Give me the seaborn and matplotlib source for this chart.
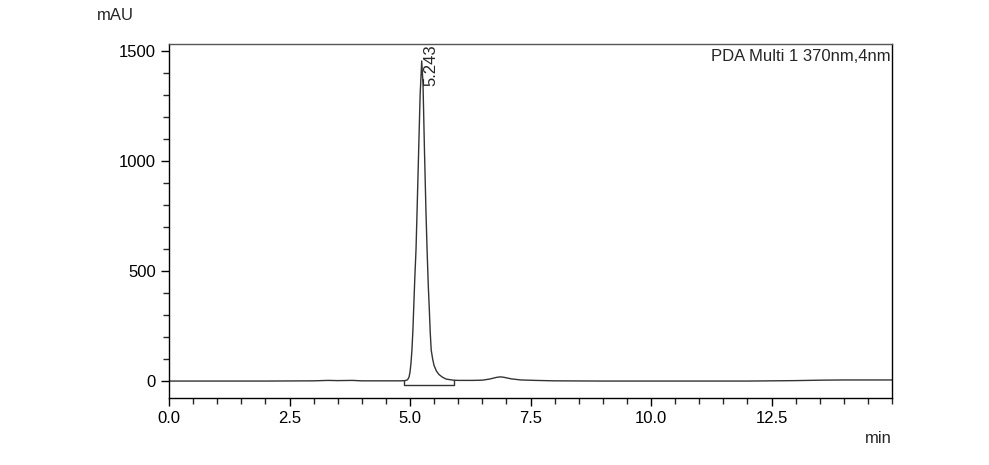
import numpy as np
import pandas as pd
import matplotlib
matplotlib.use('Agg')
import matplotlib.pyplot as plt
from matplotlib.ticker import MultipleLocator
import seaborn as sns

# chromatogram trace (min, mAU)
time_min = [0.0, 1.0, 2.0, 3.0, 3.3, 3.5, 3.8, 4.0, 4.5, 4.8, 4.90, 4.95, 4.98,
            5.00, 5.02, 5.04, 5.06, 5.08, 5.10, 5.125, 5.15, 5.18, 5.21, 5.243,
            5.27, 5.30, 5.33, 5.354, 5.38, 5.40, 5.42, 5.44, 5.47, 5.50, 5.55,
            5.60, 5.67, 5.75, 5.90, 6.0, 6.3, 6.5, 6.65, 6.8, 6.88, 6.95, 7.1,
            7.3, 7.6, 8.0, 9.0, 10.0, 11.0, 12.0, 12.5, 13.0, 13.5, 14.0, 15.0]
signal_mau = [0, 0, 0, 1, 3, 2, 3, 1, 1, 1, 2, 6, 18,
              40, 80, 141, 230, 350, 470, 599, 800, 1050, 1300, 1455,
              1350, 1050, 780, 599, 430, 330, 220, 141, 100, 70, 45,
              30, 18, 9, 4, 3, 3, 4, 9, 17, 19, 17, 10,
              5, 3, 1, 0, 0, 0, 0, 1, 2, 4, 5, 5]

# integration baseline box
box_t = [4.875, 4.875, 5.92, 5.92]
box_y = [0, -17, -17, 3]

x_ticks = [0.0, 2.5, 5.0, 7.5, 10.0, 12.5]
y_ticks = [0, 500, 1000, 1500]

peak_rt = 5.243
peak_label = '5.243'
channel_label = 'PDA Multi 1 370nm,4nm'

sns.set_style('ticks')
plt.rcParams['font.family'] = ['Liberation Sans', 'DejaVu Sans']

df = pd.DataFrame({'t': time_min, 'mAU': signal_mau})

fig = plt.figure(figsize=(9.89, 4.65), dpi=100)
ax = fig.add_axes([169 / 989, 1 - 398 / 465, (892 - 169) / 989, (398 - 44) / 465])

sns.lineplot(data=df, x='t', y='mAU', color='#333333', linewidth=1.0,
             estimator=None, ax=ax)
ax.plot(box_t, box_y, color='#333333', linewidth=1.0)

ax.set_xlim(0, 15)
ax.set_ylim(-77, 1532)
ax.set_xticks(x_ticks)
ax.set_xticklabels([f'{v:.1f}' for v in x_ticks])
ax.set_yticks(y_ticks)
ax.xaxis.set_minor_locator(MultipleLocator(0.5))
ax.yaxis.set_minor_locator(MultipleLocator(100))
ax.tick_params(which='major', length=6, width=1, labelsize=12, colors='black')
ax.tick_params(which='minor', length=4, width=1)
ax.set_xlabel('')
ax.set_ylabel('')
for s in ax.spines.values():
    s.set_linewidth(1.0)
    s.set_color('black')
ax.spines['top'].set_color('#555555')

ax.text(peak_rt + 0.19, 1530, peak_label, rotation=90, ha='center', va='top', fontsize=12)
ax.text(0.998, 0.985, channel_label, transform=ax.transAxes, ha='right', va='top', fontsize=12)
fig.text(97 / 989, 1 - 16 / 465, 'mAU', ha='left', va='center', fontsize=12)
fig.text(892 / 989, 1 - 438 / 465, 'min', ha='right', va='center', fontsize=12)

fig.savefig('out.png', dpi=100)
